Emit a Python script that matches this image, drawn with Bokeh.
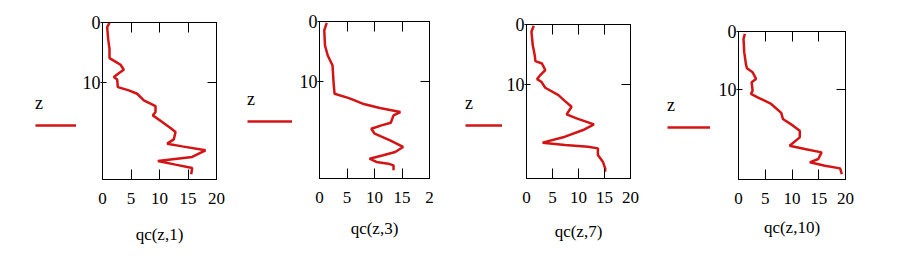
from bokeh.plotting import figure
from bokeh.models import (Range1d, FixedTicker, LinearAxis, Legend, LegendItem,
                          CustomLabelingPolicy)
from bokeh.layouts import row
from bokeh.embed import file_html
from bokeh.resources import INLINE

# ---- data ----
x_ticks = [0, 5, 10, 15, 20]
y_ticks = [0, 10]

z1 = [0.06, 0.78, 2.72, 4.39, 5.94, 6.61, 7.06, 7.89, 8.39, 9.11, 9.5, 10.78, 11.33, 11.89, 13.0,
      13.94, 14.94, 15.5, 16.61, 17.61, 18.28, 19.5, 20.22, 20.67, 21.33, 22.44, 23.11, 23.72, 24.28, 25.33]
qc1 = [1.23, 0.82, 0.99, 1.23, 1.23, 2.40, 3.16, 3.74, 2.98, 1.99, 2.57, 2.69, 4.62, 6.08, 7.25,
       9.30, 9.30, 8.83, 10.47, 11.93, 12.81, 12.51, 11.35, 13.98, 18.07, 15.73, 9.71, 12.81, 15.73, 15.56]

z3 = [0.22, 1.5, 4.0, 5.67, 7.33, 10.1, 12.06, 12.78, 13.72, 14.44, 15.11, 15.67, 16.89, 17.33, 17.89,
      18.72, 19.83, 20.94, 21.78, 22.33, 22.89, 23.44, 23.72, 24.0, 24.83]
qc3 = [1.31, 0.87, 1.0, 1.5, 2.37, 2.55, 2.74, 5.36, 7.85, 10.97, 14.7, 13.46, 12.96, 11.28, 9.41,
       10.03, 12.83, 15.2, 13.77, 11.59, 9.1, 10.34, 12.52, 13.46, 13.46]

z7 = [0.22, 1.22, 3.44, 5.11, 6.11, 6.5, 7.61, 8.44, 9.11, 9.56, 10.56, 11.78, 12.78, 13.72, 15.0,
      15.67, 16.67, 17.61, 18.72, 19.72, 20.11, 20.39, 20.67, 21.78, 22.89, 24.0, 24.56]
qc7 = [1.39, 0.95, 1.2, 1.58, 1.71, 2.97, 3.61, 2.66, 2.03, 2.85, 3.61, 6.14, 7.41, 8.67, 7.72,
       9.62, 12.97, 10.89, 7.41, 3.1, 7.41, 11.84, 13.73, 13.73, 14.68, 15.13, 15.13]

z10 = [0.41, 1.28, 3.59, 5.62, 6.38, 7.07, 8.23, 8.81, 10.26, 10.84, 11.42, 12.58, 14.14, 15.19, 16.35,
       17.22, 18.38, 19.83, 20.41, 20.99, 22.14, 22.72, 23.3, 23.77, 24.75]
qc10 = [1.19, 0.94, 1.07, 1.38, 1.57, 2.64, 3.27, 2.45, 2.64, 2.33, 3.58, 6.1, 7.99, 8.3, 10.19,
        11.45, 11.45, 9.56, 12.39, 15.53, 14.91, 13.33, 16.16, 18.99, 19.31]

x_labels = ["qc(z,1)", "qc(z,3)", "qc(z,7)", "qc(z,10)"]
legend_title = "z"

FONT = "Liberation Serif"
RED = "#d41414"
H = 261
YB = 24  # left border of each plot figure (room for y tick labels)

layout_spec = [
    dict(lw=78, w=152, fw=114, top=22, fh=157, zmax=26.2, lstd=18, over={}, lx=35, ltop=93, gw=41),
    dict(lw=65, w=150, fw=110, top=21, fh=157, zmax=26.2, lstd=13, over={20: "2"}, lx=17, ltop=89, gw=45),
    dict(lw=57, w=158, fw=104, top=24, fh=154, zmax=25.7, lstd=16, over={}, lx=20, ltop=93, gw=38),
    dict(lw=54, w=186, fw=107, top=31, fh=148, zmax=25.7, lstd=11, over={}, lx=7, ltop=95, gw=43),
]
series = [(qc1, z1), (qc3, z3), (qc7, z7), (qc10, z10)]

hide_labels = CustomLabelingPolicy(code="for (const i of indices) { indices.unset(i) } return indices")


def no_align(fig):
    if "frame_align" in fig.properties():
        fig.frame_align = False


children = []
for (qc, z), name, s in zip(series, x_labels, layout_spec):
    # legend strip (key line uses the series' own renderer style; the renderer itself is hidden)
    pl = figure(width=s["lw"], height=H, x_axis_type=None, y_axis_type=None,
                output_backend="svg", toolbar_location=None,
                min_border_left=s["lx"], min_border_top=s["ltop"],
                min_border_right=0, min_border_bottom=0,
                outline_line_color=None)
    no_align(pl)
    pl.xgrid.visible = False
    pl.ygrid.visible = False
    lr = pl.line(x=qc, y=z, line_color=RED, line_width=2.5)
    lr.visible = False
    leg = Legend(items=[LegendItem(label=" ", renderers=[lr])], title=legend_title,
                 title_text_font=FONT, title_text_font_size="18px", title_text_font_style="normal",
                 title_text_color="black", title_standoff=1,
                 glyph_width=s["gw"], glyph_height=20, label_width=0, label_standoff=0,
                 label_text_font_size="10px",
                 padding=0, margin=0, spacing=0, border_line_color=None,
                 background_fill_alpha=0, inactive_fill_alpha=0, location="top_left")
    pl.add_layout(leg)
    children.append(pl)

    # plot
    p = figure(width=s["w"], height=H, x_range=Range1d(0, 20), y_range=Range1d(s["zmax"], 0),
               output_backend="svg", toolbar_location=None,
               min_border_left=YB, min_border_right=s["w"] - YB - s["fw"],
               min_border_top=s["top"], min_border_bottom=H - s["top"] - s["fh"],
               x_axis_label=name)
    no_align(p)
    p.xgrid.visible = False
    p.ygrid.visible = False
    p.outline_line_color = "black"
    p.outline_line_alpha = 1

    xa = p.xaxis[0]
    xa.ticker = FixedTicker(ticks=x_ticks)
    xa.major_tick_in = 10
    xa.major_tick_out = 0
    xa.minor_tick_line_color = None
    xa.major_label_standoff = 13
    xa.major_label_text_font = FONT
    xa.major_label_text_font_size = "17px"
    xa.major_label_text_color = "black"
    xa.axis_label_text_font = FONT
    xa.axis_label_text_font_size = "17px"
    xa.axis_label_text_font_style = "normal"
    xa.axis_label_text_color = "black"
    xa.axis_label_standoff = s["lstd"]
    xa.axis_line_color = "black"
    xa.major_tick_line_color = "black"
    if s["over"]:
        xa.major_label_overrides = s["over"]

    ya = p.yaxis[0]
    ya.ticker = FixedTicker(ticks=y_ticks)
    ya.major_tick_in = 4
    ya.major_tick_out = 2
    ya.minor_tick_line_color = None
    ya.major_label_standoff = 0
    ya.major_label_text_font = FONT
    ya.major_label_text_font_size = "18px"
    ya.major_label_text_color = "black"
    ya.axis_line_color = "black"
    ya.major_tick_line_color = "black"

    top_ax = LinearAxis(ticker=FixedTicker(ticks=x_ticks), major_tick_in=10, major_tick_out=0,
                        minor_tick_line_color=None, major_label_text_font_size="8px",
                        major_label_policy=hide_labels,
                        major_label_standoff=0, axis_line_color="black")
    p.add_layout(top_ax, "above")
    right_ax = LinearAxis(ticker=FixedTicker(ticks=[10]), major_tick_in=9, major_tick_out=0,
                          minor_tick_line_color=None, major_label_text_font_size="8px",
                          major_label_policy=hide_labels,
                          major_label_standoff=0, axis_line_color="black")
    p.add_layout(right_ax, "right")

    p.line(qc, z, line_color=RED, line_width=2.5)
    children.append(p)

layout = row(*children, spacing=0)
open("out.html", "w").write(file_html(layout, INLINE))
